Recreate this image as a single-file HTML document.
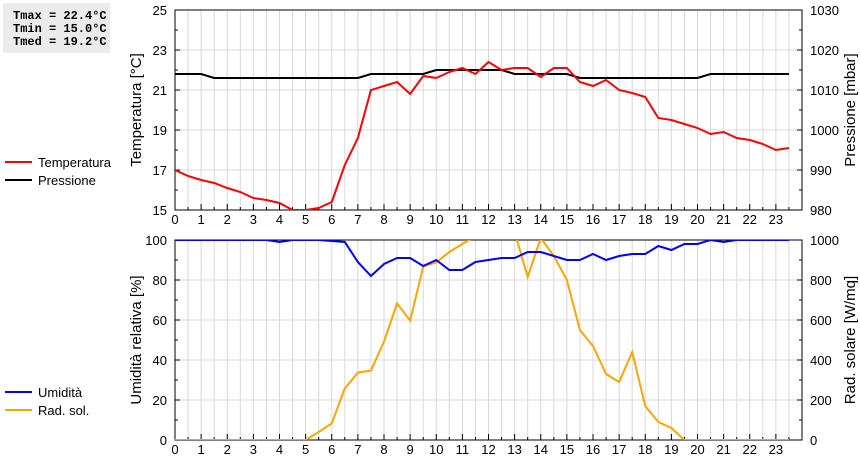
<!DOCTYPE html>
<html><head><meta charset="utf-8"><style>
body{margin:0;background:#fff;font-family:"Liberation Sans",sans-serif}
svg text{font-family:"Liberation Sans",sans-serif}
</style></head><body>
<svg id="c" width="860" height="460" xmlns="http://www.w3.org/2000/svg">
<rect x="3" y="3" width="107" height="50" fill="#ebebeb"/>
<text x="13" y="19" font-weight="bold" font-size="12" style="font-family:'Liberation Mono',monospace">Tmax = 22.4°C</text>
<text x="13" y="32" font-weight="bold" font-size="12" style="font-family:'Liberation Mono',monospace">Tmin = 15.0°C</text>
<text x="13" y="45" font-weight="bold" font-size="12" style="font-family:'Liberation Mono',monospace">Tmed = 19.2°C</text>
<defs>
<clipPath id="ct"><rect x="175" y="10" width="627" height="200"/></clipPath>
<clipPath id="cb"><rect x="175" y="240" width="627" height="200"/></clipPath>
</defs>
<g id="g"></g>
</svg>
<script>
const hours=[];for(let i=0;i<48;i++)hours.push(i/2);
const temperature=[17.0,16.7,16.5,16.35,16.1,15.9,15.6,15.5,15.35,15.0,15.0,15.1,15.4,17.25,18.6,21.0,21.2,21.4,20.8,21.7,21.6,21.9,22.1,21.8,22.4,22.0,22.1,22.1,21.65,22.1,22.1,21.4,21.2,21.5,21.0,20.85,20.65,19.6,19.5,19.3,19.1,18.8,18.9,18.6,18.5,18.3,18.0,18.1];
const pressure=[1014,1014,1014,1013,1013,1013,1013,1013,1013,1013,1013,1013,1013,1013,1013,1014,1014,1014,1014,1014,1015,1015,1015,1015,1015,1015,1014,1014,1014,1014,1014,1013,1013,1013,1013,1013,1013,1013,1013,1013,1013,1014,1014,1014,1014,1014,1014,1014];
const humidity=[100,100,100,100,100,100,100,100,99,100,100,100,99.5,99,89,82,88,91,91,87,90,85,85,89,90,91,91,94,94,92,90,90,93,90,92,93,93,97,95,98,98,100,99,100,100,100,100,100];
const radiation=[0,0,0,0,0,0,0,0,0,0,0,40,83,258,337,347,492,683,597,867,888,940,980,1020,1100,1100,1040,815,1010,920,800,550,470,330,290,440,170,90,60,0,0,0,0,0,0,0,0,0];
const xTicks=[0,1,2,3,4,5,6,7,8,9,10,11,12,13,14,15,16,17,18,19,20,21,22,23];
const tempTicks=[15,17,19,21,23,25];
const presTicks=[980,990,1000,1010,1020,1030];
const humTicks=[0,20,40,60,80,100];
const radTicks=[0,200,400,600,800,1000];
const NS="http://www.w3.org/2000/svg";
const g=document.getElementById('g');
const X0=175,X1=802;
const xs=h=>X0+(h/24)*(X1-X0);
function mk(t,a,p){const e=document.createElementNS(NS,t);for(const k in a)e.setAttribute(k,a[k]);(p||g).appendChild(e);return e;}
function panel(top,yl,yh,yr0,yr1,lt,rt,lTitle,rTitle,pre){
 const ys=v=>top+200-(v-yl)/(yh-yl)*200;
 const yr=v=>top+200-(v-yr0)/(yr1-yr0)*200;
 for(let h=0.5;h<24;h+=0.5){const l=mk('line',{x1:xs(h),x2:xs(h),y1:top,y2:top+200,stroke:'#d8d8d8'});
 
 }
 lt.forEach((v,i)=>{if(i>0&&i<lt.length-1){const l=mk('line',{x1:X0,x2:X1,y1:ys(v),y2:ys(v),stroke:'#d8d8d8'});
 
 }
 const t=mk('text',{x:167,y:ys(v)+5,'text-anchor':'end','font-size':13,fill:'#000'});t.textContent=v;
 
 
 mk('line',{x1:X0,x2:X0+5,y1:ys(v),y2:ys(v),stroke:'#000'});mk('line',{x1:X1-5,x2:X1,y1:ys(v),y2:ys(v),stroke:'#000'});
 if(i<lt.length-1){const m=ys(v)-(ys(v)-ys(lt[i+1]))/2;mk('line',{x1:X0,x2:X0+3,y1:m,y2:m,stroke:'#000'});mk('line',{x1:X1-3,x2:X1,y1:m,y2:m,stroke:'#000'});}});
 rt.forEach(v=>{const t=mk('text',{x:810,y:yr(v)+5,'font-size':13,fill:'#000'});t.textContent=v;
 
 });
 xTicks.forEach(h=>{const t=mk('text',{x:xs(h),y:top+214,'text-anchor':'middle','font-size':13,fill:'#000'});t.textContent=h;
 
 
 mk('line',{x1:xs(h),x2:xs(h),y1:top+200,y2:top+194,stroke:'#000'});mk('line',{x1:xs(h+0.5),x2:xs(h+0.5),y1:top+200,y2:top+197,stroke:'#000'});});
 const f=mk('rect',{x:X0,y:top,width:X1-X0,height:200,fill:'none',stroke:'#000'});
 
 
 const a=mk('text',{transform:`translate(141,${top+100}) rotate(-90)`,'text-anchor':'middle','font-size':15});a.textContent=lTitle;
 
 
 const b=mk('text',{transform:`translate(855,${top+100}) rotate(-90)`,'text-anchor':'middle','font-size':15});b.textContent=rTitle;
 
 
 return [ys,yr];}
function line(vals,sc,col,clip,name){const p=mk('polyline',{points:vals.map((v,i)=>xs(hours[i])+','+sc(v)).join(' '),fill:'none',stroke:col,'stroke-width':2,'clip-path':`url(#${clip})`});
 
 }
const [ty,py]=panel(10,15,25,980,1030,tempTicks,presTicks,'Temperatura [°C]','Pressione [mbar]','top');
line(pressure,py,'#000','ct','pressure-line');
line(temperature,ty,'#f00','ct','temperature-line');
const [hy,ry]=panel(240,0,100,0,1000,humTicks,radTicks,'Umidità relativa [%]','Rad. solare [W/mq]','bottom');
line(radiation,ry,'#ffa500','cb','radiation-line');
line(humidity,hy,'#00f','cb','humidity-line');
function leg(y,col,txt,name){const l=mk('line',{x1:5,x2:32,y1:y,y2:y,stroke:col,'stroke-width':2});
 
 
 const t=mk('text',{x:38,y:y+5,'font-size':13});t.textContent=txt;
 
 }
leg(162,'#f00','Temperatura','legend-temperature');
leg(180,'#000','Pressione','legend-pressure');
leg(392,'#00f','Umidità','legend-humidity');
leg(410,'#ffa500','Rad. sol.','legend-radiation');
</script>
</body></html>
